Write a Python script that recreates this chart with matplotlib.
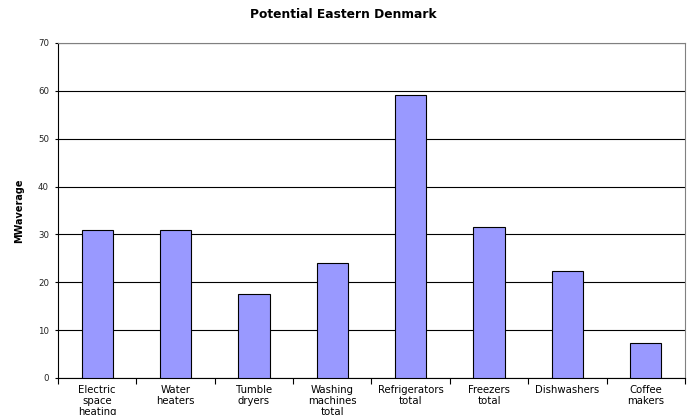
import matplotlib
matplotlib.use("Agg")
import matplotlib.pyplot as plt
import numpy as np

plt.rcParams['font.family'] = ['DejaVu Sans']

categories = ["Electric\nspace\nheating", "Water\nheaters", "Tumble\ndryers",
              "Washing\nmachines\ntotal", "Refrigerators\ntotal", "Freezers\ntotal",
              "Dishwashers", "Coffee\nmakers"]
values = [31.0, 31.0, 17.6, 24.1, 59.1, 31.6, 22.4, 7.4]
yticks = [0, 10, 20, 30, 40, 50, 60, 70]

fig = plt.figure(figsize=(6.92, 4.15), dpi=100)
ax = fig.add_axes([0.0838, 0.0892, 0.9060, 0.8072])

x = np.arange(len(categories))
ax.bar(x, values, width=0.4, color='#9999ff', edgecolor='black', linewidth=0.8, zorder=3)

ax.set_xlim(-0.5, len(categories) - 0.5)
ax.set_ylim(0, 70)
ax.set_yticks(yticks)
ax.set_yticklabels([str(v) for v in yticks], fontsize=6.2, color='#222222')
ax.yaxis.grid(True, color='black', linewidth=0.8, zorder=0)
ax.set_axisbelow(True)

ax.set_xticks(x)
ax.set_xticklabels(categories, fontsize=7.3, linespacing=1.1, va='top')
ax.tick_params(axis='x', length=0, pad=5)
ax.set_xticks(np.arange(-0.5, len(categories) + 0.5, 1), minor=True)
ax.tick_params(axis='x', which='minor', length=4, width=0.8, direction='out')
ax.tick_params(axis='y', length=2.5, width=0.8, direction='out', pad=4)

for s in ['left', 'bottom']:
    ax.spines[s].set_color('black')
    ax.spines[s].set_linewidth(0.8)
for s in ['top', 'right']:
    ax.spines[s].set_color('#808080')
    ax.spines[s].set_linewidth(0.8)

ax.set_ylabel("MWaverage", fontsize=7, fontweight='bold', labelpad=10)
fig.text(0.496, 0.966, "Potential Eastern Denmark", ha='center', va='center',
         fontsize=8.8, fontweight='bold')

fig.savefig("out.png", dpi=100)
